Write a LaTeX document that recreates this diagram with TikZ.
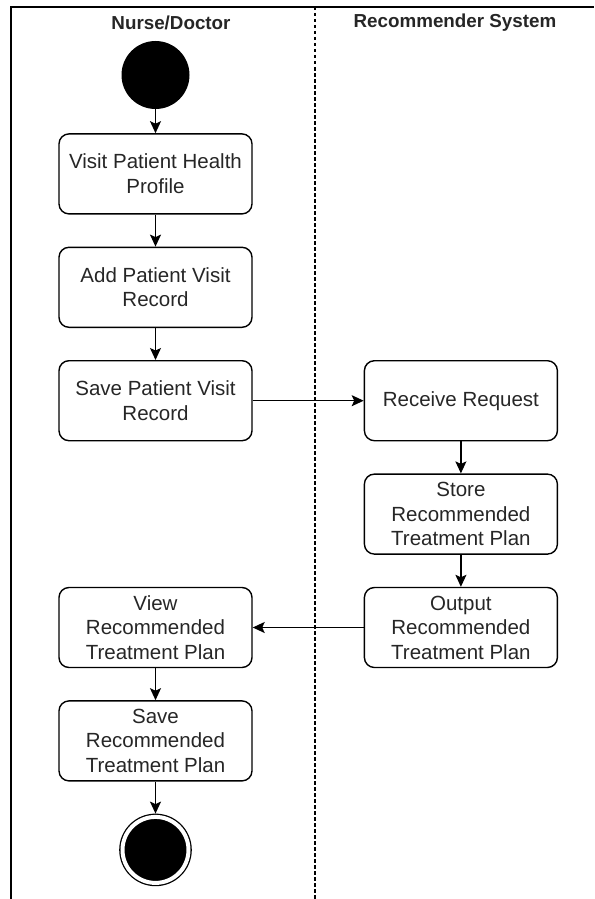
\documentclass[tikz,border=0pt]{standalone}
\usepackage{fontspec}
\setmainfont{Liberation Sans}
\usetikzlibrary{positioning,arrows.meta}

\begin{document}
\begin{tikzpicture}[x=1pt, y=-1pt, main/.style = {draw, rounded corners=10pt, line width=1.4pt, minimum width=193pt, minimum height=80pt, align=center, text=black!85, font=\fontsize{20.5}{24.5}\selectfont}, lane/.style = {text=black!85, font=\bfseries\fontsize{18.8}{22}\selectfont}, >={Stealth[length=12pt,width=11pt,inset=2.5pt]}, node distance={32pt}] 
\useasboundingbox (0,0) rectangle (594,899);
\draw[line width=1.3pt] (11,899) -- (11,7) -- (594,7);
\draw[line width=1.1pt, dash pattern=on 3.5pt off 2.5pt] (315,7) -- (315,899);
\node[lane] (h1) at (171,23) {Nurse/Doctor};
\node[lane] (h2) at (455,23) {Recommender System};
\node[circle, fill=black, minimum size=68pt] (0) at (155.5,75) {}; 
\node[main] (1) [below=24pt of 0] {Visit Patient Health\\Profile};
\node[main] (2) [below=of 1] {Add Patient Visit\\Record};
\node[main] (3) [below=of 2] {Save Patient Visit\\Record};
\node[main] (4) [right=111pt of 3] {Receive Request};
\node[main] (5) [below=of 4] {Store\\Recommended\\Treatment Plan};
\node[main] (6) [below=of 5] {Output\\Recommended\\Treatment Plan};
\node[main] (7) [left=111pt of 6] {View\\Recommended\\Treatment Plan};
\node[main] (8) [below=of 7] {Save\\Recommended\\Treatment Plan};
\node[circle, draw, fill=black, line width=1.3pt, double=white, double distance=4pt, minimum size=66pt, outer sep=3.3pt] (9) [below=of 8] {};
\draw[->,line width=1.4pt] (0) -- (1);
\draw[->,line width=1.4pt] (1) -- (2);
\draw[->,line width=1.4pt] (2) -- (3);
\draw[->,line width=1.4pt] (3) -- (4);
\draw[->,line width=1.4pt] (4) -- (5);
\draw[->,line width=1.4pt] (5) -- (6);
\draw[->,line width=1.4pt] (6) -- (7);
\draw[->,line width=1.4pt] (7) -- (8);
\draw[->,line width=1.4pt] (8) -- (9);
\end{tikzpicture}
\end{document}
